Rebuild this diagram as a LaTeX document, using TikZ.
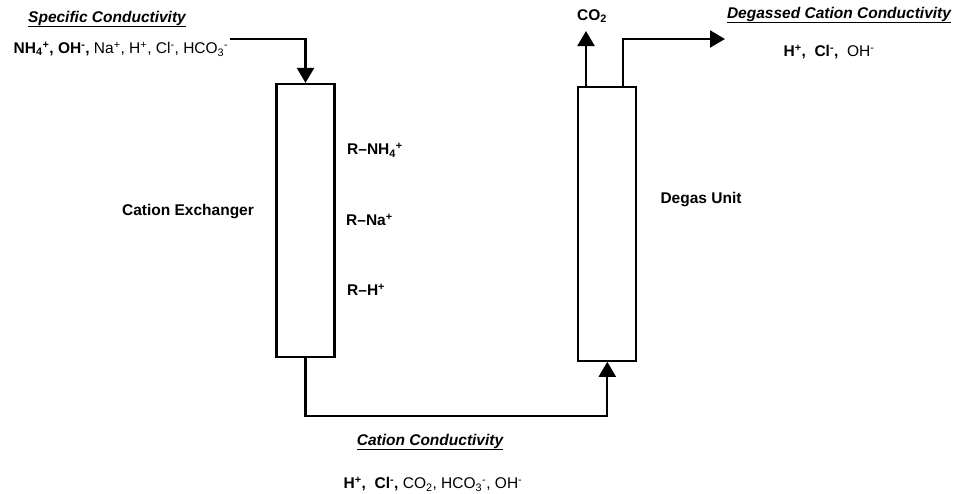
\documentclass[tikz,border=0pt]{standalone}
\usepackage{fontspec}
\setmainfont{Liberation Sans}
\usetikzlibrary{arrows.meta}
\newcommand{\sps}[1]{\textsuperscript{#1}}
\newcommand{\sbs}[1]{\textsubscript{#1}}
\tikzset{
  txt/.style={inner sep=0pt, font=\fontsize{15.5}{18}\selectfont},
  ttl/.style={txt, font=\fontsize{15.5}{18}\selectfont\bfseries\itshape},
  column/.style={draw, line width=2.2pt, minimum width=58pt, inner sep=0pt},
  flow/.style={line width=2.2pt},
  arr/.style={flow, -{Triangle[length=15pt,width=17pt]}},
}
\newcommand{\ul}[1]{\underline{#1}}
\begin{document}
\begin{tikzpicture}[x=1pt,y=-1pt]
\useasboundingbox (0,0) rectangle (957,493);
% columns
\node[column, minimum height=273pt] (cx) at (305.5,220.5) {};
\node[column, minimum height=274pt] (dg) at (607.3,223.7) {};
% labels
\node[ttl] (specT) at (107,19) {\ul{Specific Conductivity}};
\node[txt] (specI) at (121,49) {\textbf{NH\sbs{4}\sps{+}, OH\sps{-},} Na\sps{+}, H\sps{+}, Cl\sps{-}, HCO\sbs{3}\sps{-}};
\node[txt, font=\fontsize{15.5}{18}\selectfont\bfseries] (cxl) at (188,212) {Cation Exchanger};
\node[txt, font=\fontsize{15.5}{18}\selectfont\bfseries, anchor=west] (r1) at (347,150) {R--NH\sbs{4}\sps{+}};
\node[txt, font=\fontsize{15.5}{18}\selectfont\bfseries, anchor=west] (r2) at (346,220) {R--Na\sps{+}};
\node[txt, font=\fontsize{15.5}{18}\selectfont\bfseries, anchor=west] (r3) at (347,290) {R--H\sps{+}};
\node[txt, font=\fontsize{15.5}{18}\selectfont\bfseries] (dgl) at (701,200) {Degas Unit};
\node[txt, font=\fontsize{15.5}{18}\selectfont\bfseries] (co2) at (592,16) {CO\sbs{2}};
\node[ttl] (degT) at (839,15) {\ul{Degassed Cation Conductivity}};
\node[txt] (degI) at (829,52) {\textbf{H\sps{+},\ \ Cl\sps{-},}\ \ OH\sps{-}};
\node[ttl] (catT) at (430,442) {\ul{Cation Conductivity}};
\node[txt, anchor=base] (catI) at (433,488.5) {\textbf{H\sps{+},\ \ Cl\sps{-},} CO\sbs{2}, HCO\sbs{3}\sps{-}, OH\sps{-}};
% connectors
\coordinate (feed) at (230,39);
\coordinate (co2top) at (586,31);
\coordinate (outend) at (725,39);
\draw[arr] (feed) -| (cx.north);
\draw[arr] (cx.south) -- ++(0,58) -| (dg.south);
\draw[arr] (dg.north -| co2top) -- (co2top);
\draw[arr] (dg.north -| 623,0) |- (outend);
\end{tikzpicture}
\end{document}
